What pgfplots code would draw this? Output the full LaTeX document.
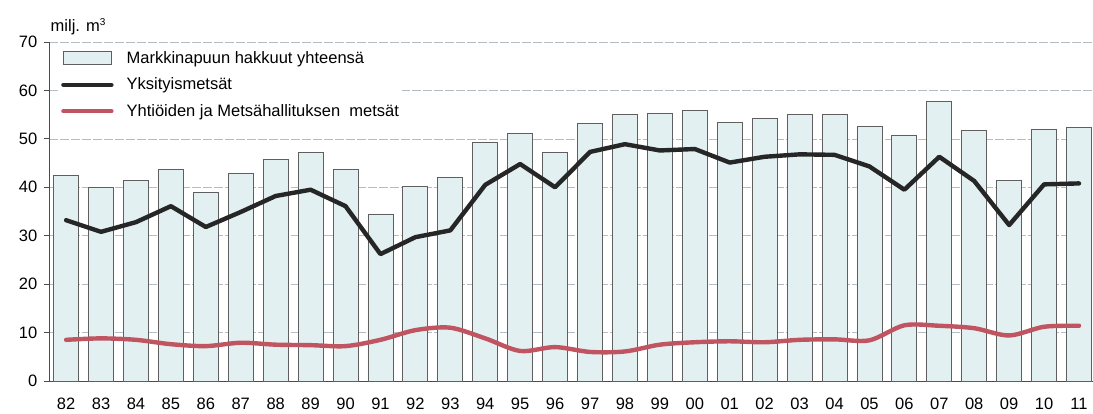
\documentclass[border=0pt]{standalone}
\usepackage{pgfplots}
\pgfplotsset{compat=1.18}
\usepackage{fontspec}
\setmainfont{Liberation Sans}
\definecolor{barfill}{RGB}{226,240,241}
\definecolor{baredge}{RGB}{95,95,95}
\definecolor{blk}{RGB}{38,38,38}
\definecolor{redl}{RGB}{192,84,96}
\definecolor{gridc}{RGB}{178,190,196}
\begin{document}
\fontsize{16.5}{19}\selectfont
\begin{tikzpicture}
\begin{axis}[
  scale only axis, width=1044pt, height=339pt,
  xmin=-0.49, xmax=29.4, ymin=0, ymax=70,
  axis x line=bottom, axis y line=left,
  axis line style={-, draw=black!70, line width=0.8pt},
  xtick={0,...,29},
  xticklabels={82,83,84,85,86,87,88,89,90,91,92,93,94,95,96,97,98,99,00,01,02,03,04,05,06,07,08,09,10,11},
  xtick style={draw=none},
  ytick={0,10,...,70},
  tick align=outside, major tick length=5pt,
  ytick style={draw=black!70, line width=0.8pt},
  ymajorgrids,
  grid style={gridc, line width=0.6pt, dash pattern=on 9pt off 2pt},
  tick label style={font=\fontsize{16.5}{19}\selectfont},
  /pgf/number format/assume math mode=true,
  xticklabel style={yshift=-6pt},
  yticklabel style={xshift=-1pt},
  clip=false,
  legend cell align=left,
  legend style={at={(rel axis cs:0,1)}, anchor=north west, xshift=10pt, yshift=-6pt,
    draw=none, fill=white, inner sep=2pt, row sep=10pt, column sep=12pt,
    font=\fontsize{16.5}{19}\selectfont,
    nodes={inner sep=1pt}},
]
\addplot[ybar, bar width=25pt, fill=barfill, draw=baredge, line width=0.8pt,
  legend image code/.code={\draw[fill=barfill, draw=baredge, line width=0.8pt] (0pt,-6pt) rectangle (48pt,7pt);}]
  table[row sep=\\] {
x y\\
0 42.4\\ 1 39.9\\ 2 41.5\\ 3 43.6\\ 4 39.0\\ 5 42.9\\ 6 45.7\\ 7 47.1\\ 8 43.6\\ 9 34.5\\
10 40.2\\ 11 42.1\\ 12 49.3\\ 13 51.1\\ 14 47.1\\ 15 53.1\\ 16 55.1\\ 17 55.3\\ 18 55.9\\ 19 53.3\\
20 54.2\\ 21 55.0\\ 22 55.1\\ 23 52.6\\ 24 50.8\\ 25 57.7\\ 26 51.7\\ 27 41.5\\ 28 52.0\\ 29 52.3\\
};
\addlegendentry{Markkinapuun hakkuut yhteensä}
\addplot[blk, line width=4.4pt, line join=round, line cap=round,
  legend image code/.code={\draw[blk, line width=4.4pt] (0pt,0pt) -- (48pt,0pt);}]
  table[row sep=\\] {
x y\\
0 33.2\\ 1 30.8\\ 2 32.8\\ 3 36.1\\ 4 31.8\\ 5 34.9\\ 6 38.2\\ 7 39.5\\ 8 36.1\\ 9 26.2\\
10 29.7\\ 11 31.1\\ 12 40.5\\ 13 44.8\\ 14 40.0\\ 15 47.3\\ 16 48.9\\ 17 47.6\\ 18 47.9\\ 19 45.1\\
20 46.3\\ 21 46.8\\ 22 46.7\\ 23 44.3\\ 24 39.5\\ 25 46.3\\ 26 41.3\\ 27 32.2\\ 28 40.6\\ 29 40.8\\
};
\addlegendentry{Yksityismetsät}
\addplot[redl, line width=4.4pt, smooth, tension=0.5, line cap=round,
  legend image code/.code={\draw[redl, line width=4.4pt] (0pt,0pt) -- (48pt,0pt);}]
  table[row sep=\\] {
x y\\
0 8.5\\ 1 8.8\\ 2 8.5\\ 3 7.6\\ 4 7.2\\ 5 7.9\\ 6 7.5\\ 7 7.4\\ 8 7.2\\ 9 8.5\\
10 10.5\\ 11 11.0\\ 12 8.8\\ 13 6.2\\ 14 7.0\\ 15 6.0\\ 16 6.1\\ 17 7.5\\ 18 8.0\\ 19 8.2\\
20 8.0\\ 21 8.5\\ 22 8.6\\ 23 8.4\\ 24 11.5\\ 25 11.4\\ 26 10.9\\ 27 9.4\\ 28 11.2\\ 29 11.4\\
};
\addlegendentry{Yhtiöiden ja Metsähallituksen\ \ metsät}
\node[anchor=base west, font=\fontsize{16.5}{19}\selectfont, xshift=-4pt, yshift=10pt]
  at (rel axis cs:0,1) {milj. m\textsuperscript{\fontsize{10}{10}\selectfont 3}};
\end{axis}
\pgfresetboundingbox
\path[use as bounding box] (-49pt,-33pt) rectangle (1044pt,381pt);
\end{tikzpicture}
\end{document}
